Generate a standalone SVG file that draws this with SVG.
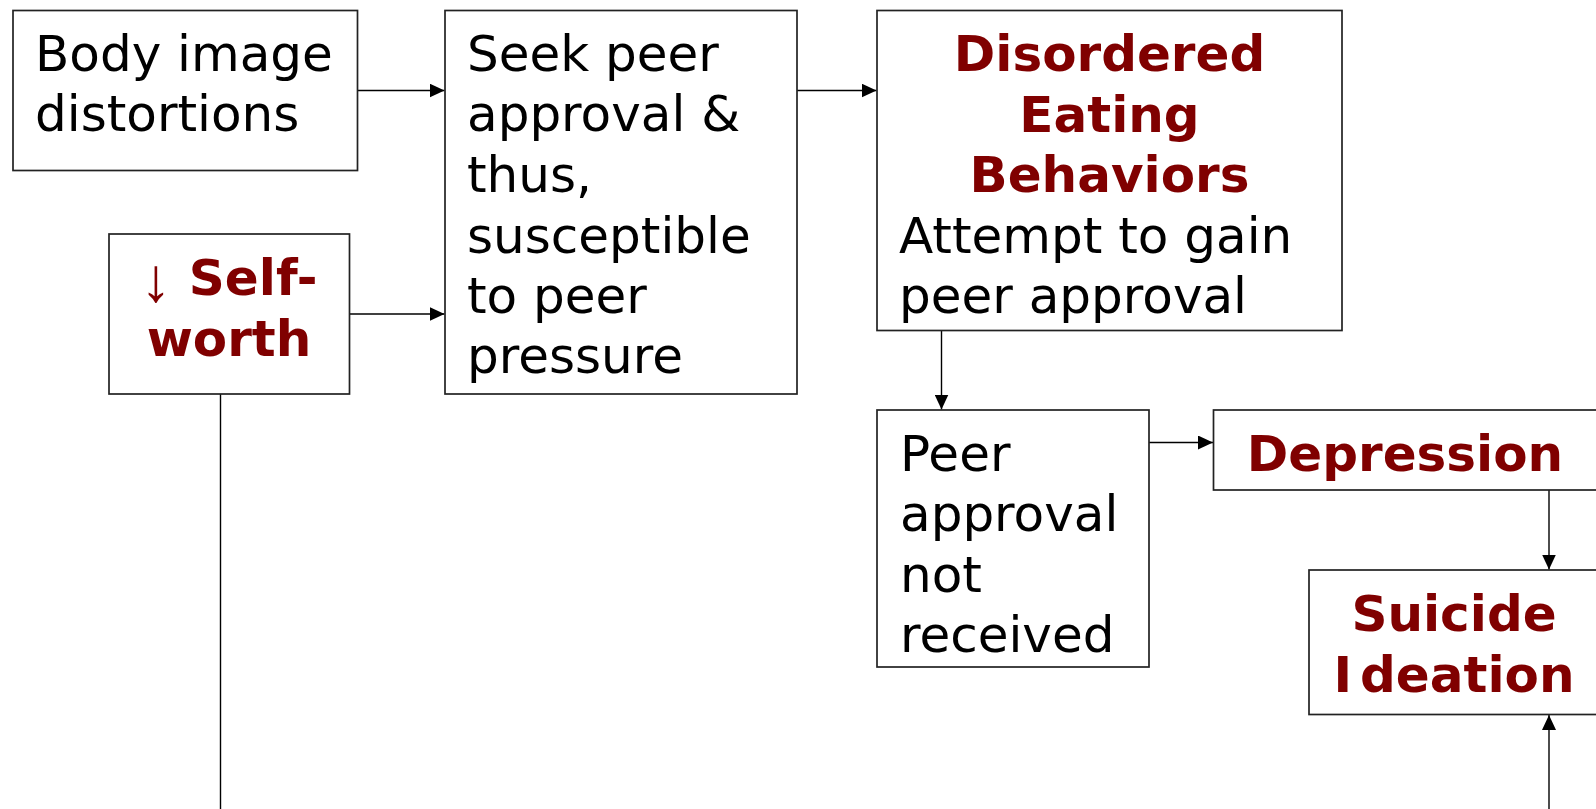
<svg xmlns="http://www.w3.org/2000/svg" width="1596" height="809" viewBox="0 0 1596 809">
<style>
.box{fill:#fff;stroke:#222;stroke-width:1.7}
.t{font-family:"DejaVu Sans","Liberation Sans",sans-serif;font-size:50px;fill:#000}
.h{font-family:"DejaVu Sans","Liberation Sans",sans-serif;font-size:50px;font-weight:bold;fill:#800000;text-anchor:middle}
.arr{font-family:"Liberation Sans","DejaVu Sans",sans-serif;font-weight:normal;font-size:62px}
.c{fill:none;stroke:#000;stroke-width:1.4}
</style>
<defs>
<marker id="ah" markerUnits="userSpaceOnUse" markerWidth="16" markerHeight="14" refX="15" refY="7" orient="auto">
<path d="M0,0 L15,7 L0,14 Z" fill="#000"/>
</marker>
</defs>
<rect width="1596" height="809" fill="#fff"/>
<g id="connectors">
<path class="c" d="M357.5 90.5 H444.5" marker-end="url(#ah)"/>
<path class="c" d="M349.5 314 H444.5" marker-end="url(#ah)"/>
<path class="c" d="M797 90.5 H876.5" marker-end="url(#ah)"/>
<path class="c" d="M941.5 330.5 V409.5" marker-end="url(#ah)"/>
<path class="c" d="M1149 442.5 H1213" marker-end="url(#ah)"/>
<path class="c" d="M1549 490 V569.5" marker-end="url(#ah)"/>
<path class="c" d="M1549 812 V715" marker-end="url(#ah)"/>
<path class="c" d="M220.5 394 V812"/>
</g>
<g id="body-image">
<rect class="box" x="13" y="10.5" width="344.5" height="160"/>
<text class="t" x="35" y="71">Body image</text>
<text class="t" x="35" y="131">distortions</text>
</g>
<g id="self-worth">
<rect class="box" x="109" y="234" width="240.5" height="160"/>
<text class="h" x="229" y="295"><tspan class="arr" dy="6">↓</tspan><tspan dy="-6"> Self-</tspan></text>
<text class="h" x="229" y="356">worth</text>
</g>
<g id="seek-peer">
<rect class="box" x="445" y="10.5" width="352" height="383.5"/>
<text class="t" x="467" y="71">Seek peer</text>
<text class="t" x="467" y="131">approval &amp;</text>
<text class="t" x="467" y="192">thus,</text>
<text class="t" x="467" y="253">susceptible</text>
<text class="t" x="467" y="313">to peer</text>
<text class="t" x="467" y="373">pressure</text>
</g>
<g id="disordered-eating">
<rect class="box" x="877" y="10.5" width="465" height="320"/>
<text class="h" x="1109.5" y="71">Disordered</text>
<text class="h" x="1109.5" y="131.5">Eating</text>
<text class="h" x="1109.5" y="192">Behaviors</text>
<text class="t" x="899" y="252.5">Attempt to gain</text>
<text class="t" x="899" y="313">peer approval</text>
</g>
<g id="peer-not-received">
<rect class="box" x="877" y="410" width="272" height="257"/>
<text class="t" x="900" y="471">Peer</text>
<text class="t" x="900" y="531">approval</text>
<text class="t" x="900" y="592">not</text>
<text class="t" x="900" y="652">received</text>
</g>
<g id="depression">
<rect class="box" x="1213.5" y="410" width="400" height="80"/>
<text class="h" x="1405" y="471">Depression</text>
</g>
<g id="suicide-ideation">
<rect class="box" x="1309" y="570" width="320" height="144.5"/>
<text class="h" x="1454" y="631">Suicide</text>
<text class="h" x="1454" y="692">I<tspan dx="8">deation</tspan></text>
</g>
</svg>
